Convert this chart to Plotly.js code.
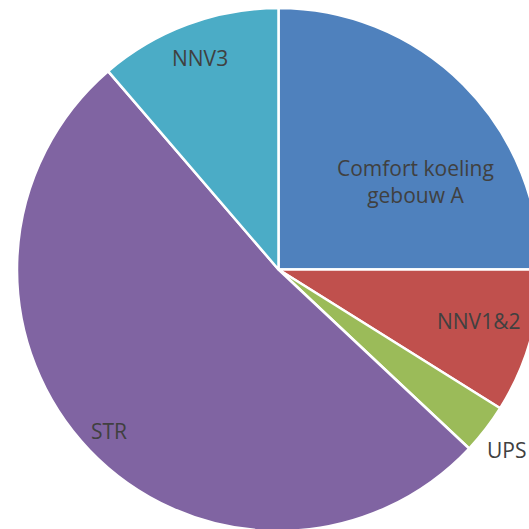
<!DOCTYPE html>
<html><head><meta charset="utf-8">
<script src="https://cdn.plot.ly/plotly-3.0.1.min.js"></script>
<style>html,body{margin:0;padding:0;overflow:hidden;background:#fff;width:529px;height:529px}</style>
</head><body>
<div id="chart" style="width:560px;height:560px"></div>
<script>
const labels = ['Comfort koeling gebouw A', 'NNV1&2', 'UPS', 'STR', 'NNV3'];
const textLabels = ['Comfort koeling<br>gebouw A', 'NNV1&2', 'UPS', 'STR', 'NNV3'];
const values = [25, 8.9, 3.1, 51.7, 11.3];
const colors = ['#4F81BD', '#C0504D', '#9BBB59', '#8064A2', '#4BACC6'];

// label placement style: radial factor (fraction of radius) and pixel nudge
const labelRadius = [0.62, 0.80, 1.13, 0.895, 0.862];
const labelShiftX = [22, -1, -6, 0, 0];
const labelShiftY = [-27, 6, 0, 0, 0];

const total = values.reduce((a, b) => a + b, 0);
let cum = 0;
const annotations = values.map((v, i) => {
  const mid = (cum + v / 2) / total * 2 * Math.PI; // clockwise from 12 o'clock
  cum += v;
  return {
    xref: 'paper', yref: 'paper',
    x: 0.5 + 0.5 * labelRadius[i] * Math.sin(mid),
    y: 0.5 + 0.5 * labelRadius[i] * Math.cos(mid),
    xanchor: 'center', yanchor: 'middle',
    xshift: labelShiftX[i], yshift: labelShiftY[i],
    text: textLabels[i], showarrow: false,
    font: {family: 'Open Sans, sans-serif', size: 21, color: '#404040'}
  };
});

Plotly.newPlot('chart', [{
  type: 'pie',
  labels: labels,
  values: values,
  textinfo: 'none',
  sort: false,
  direction: 'clockwise',
  rotation: 0,
  marker: {colors: colors, line: {color: '#ffffff', width: 2.5}},
  hoverinfo: 'none'
}], {
  width: 560, height: 560,
  margin: {l: 17, r: 20, t: 8, b: 29},
  showlegend: false,
  paper_bgcolor: '#ffffff',
  annotations: annotations
}, {displayModeBar: false, staticPlot: true});
</script>
</body></html>
